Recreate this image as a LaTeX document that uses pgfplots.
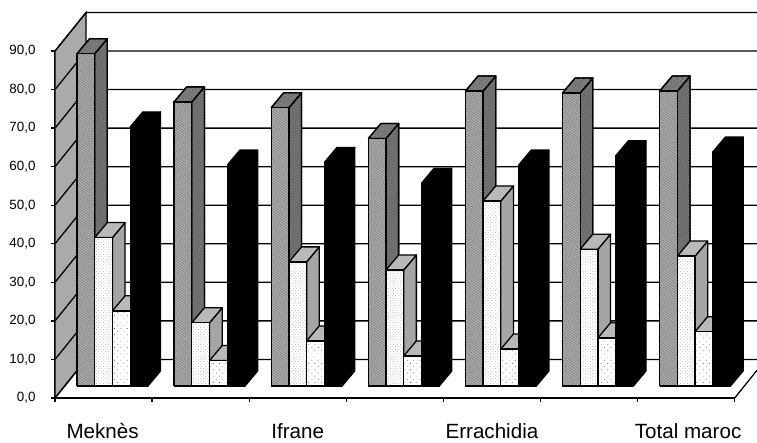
\documentclass[border=0pt]{standalone}
\usepackage{fontspec}
\setmainfont{Liberation Sans}
\usepackage{pgfplots}
\pgfplotsset{compat=1.18}
\usetikzlibrary{patterns.meta}

\definecolor{wallgray}{RGB}{170,170,170}
\definecolor{aFront}{RGB}{175,175,175}
\definecolor{aSide}{RGB}{125,125,125}
\definecolor{aTop}{RGB}{130,130,130}
\definecolor{bSide}{RGB}{165,165,165}
\definecolor{bTop}{RGB}{185,185,185}

\tikzset{
  edge/.style={draw=black, line width=1.3pt, line join=round},
  aF/.style={edge, preaction={fill=aFront}, pattern={Lines[angle=-35,distance=2.1pt,line width=.7pt]}, pattern color=black!50},
  aS/.style={edge, preaction={fill=aSide}, pattern={Lines[angle=50,distance=1.9pt,line width=.6pt]}, pattern color=black!65},
  aT/.style={edge, preaction={fill=aTop}, pattern={Lines[angle=20,distance=2pt,line width=.6pt]}, pattern color=black!60},
  bF/.style={edge, preaction={fill=white}, pattern={Dots[radius=.35pt,distance=2.4pt,angle=45]}, pattern color=black!60},
  bS/.style={edge, fill=bSide},
  bT/.style={edge, fill=bTop},
  cF/.style={edge, preaction={fill=white}, pattern={Dots[radius=.45pt,distance=4.5pt,angle=45]}, pattern color=black!75},
  cS/.style={edge, fill=bSide},
  cT/.style={edge, fill=bTop},
  dF/.style={edge, fill=black},
  dS/.style={edge, fill=black},
  dT/.style={edge, fill=black},
}

% columns stand 3.1 units up the floor
\newcommand\base{3.1}
% one column: left edge, value, series prefix
\newcommand\column[3]{%
  \edef\tmp{%
    \noexpand\addplot[#3S] coordinates {(\fpeval{#1+.1825},\base) (\fpeval{#1+.3125},\fpeval{\base+3.9}) (\fpeval{#1+.3125},\fpeval{#2+\base+3.9}) (\fpeval{#1+.1825},\fpeval{#2+\base}) (\fpeval{#1+.1825},\base)};
    \noexpand\addplot[#3T] coordinates {(#1,\fpeval{#2+\base}) (\fpeval{#1+.13},\fpeval{#2+\base+3.9}) (\fpeval{#1+.3125},\fpeval{#2+\base+3.9}) (\fpeval{#1+.1825},\fpeval{#2+\base}) (#1,\fpeval{#2+\base})};
    \noexpand\addplot[#3F] coordinates {(#1,\base) (\fpeval{#1+.1825},\base) (\fpeval{#1+.1825},\fpeval{#2+\base}) (#1,\fpeval{#2+\base}) (#1,\base)};
  }\tmp}
% one category: index, four values
\newcommand\group[5]{%
  \column{\fpeval{#1+.2265}}{#2}{a}%
  \column{\fpeval{#1+.409}}{#3}{b}%
  \column{\fpeval{#1+.5915}}{#4}{c}%
  \column{\fpeval{#1+.774}}{#5}{d}}

\begin{document}
\begin{tikzpicture}
\useasboundingbox (-55pt,-45pt) rectangle (702pt,398pt);
\begin{axis}[
    at={(0pt,0pt)}, anchor=south west,
    scale only axis,
    width=679.7pt, height=346.95pt,
    xmin=0, xmax=7, ymin=0, ymax=90,
    clip=false,
    axis lines=left,
    axis line style={-, line width=1.3pt},
    tick align=outside,
    major tick length=4pt,
    tick style={black, line width=1.3pt},
    xtick={0,...,7},
    xticklabels={},
    extra x ticks={0.49,2.5,4.5,6.52},
    extra x tick labels={Meknès,Ifrane,Errachidia,Total maroc},
    extra x tick style={
      major tick length=0pt,
      tick label style={font=\fontsize{20.6}{22}\selectfont, inner sep=0pt, text height=15pt, text depth=0pt, yshift=-25pt}},
    ytick={0,10,...,90},
    yticklabel style={font=\fontsize{13.4}{15}\selectfont, xshift=-12pt},
    /pgf/number format/.cd, fixed, fixed zerofill, precision=1, use comma,
      assume math mode=true,
]
% left wall
\addplot[draw=black, line width=1.3pt, fill=wallgray] coordinates {(0,0) (.32,10) (.32,100) (0,90) (0,0)};
% wall grid and back wall
\addplot[black, line width=1.3pt] coordinates {(0,0) (.32,10) (7.23,10)};
\addplot[black, line width=1.3pt] coordinates {(0,10) (.32,20) (7.23,20)};
\addplot[black, line width=1.3pt] coordinates {(0,20) (.32,30) (7.23,30)};
\addplot[black, line width=1.3pt] coordinates {(0,30) (.32,40) (7.23,40)};
\addplot[black, line width=1.3pt] coordinates {(0,40) (.32,50) (7.23,50)};
\addplot[black, line width=1.3pt] coordinates {(0,50) (.32,60) (7.23,60)};
\addplot[black, line width=1.3pt] coordinates {(0,60) (.32,70) (7.23,70)};
\addplot[black, line width=1.3pt] coordinates {(0,70) (.32,80) (7.23,80)};
\addplot[black, line width=1.3pt] coordinates {(0,80) (.32,90) (7.23,90)};
\addplot[black, line width=1.3pt] coordinates {(0,90) (.32,100) (7.23,100)};
% floor edge on the right
\addplot[black, line width=1.3pt] coordinates {(7,0) (7.23,7.2)};
% columns
\group{0}{86.2}{38.5}{19.5}{67.2}
\group{1}{73.7}{16.4}{6.6}{57.3}
\group{2}{72.2}{32.2}{11.7}{58.0}
\group{3}{64.2}{30.1}{7.8}{52.6}
\group{4}{76.5}{48.0}{9.6}{57.3}
\group{5}{76.0}{35.5}{12.5}{59.7}
\group{6}{76.5}{33.7}{14.1}{60.7}
\end{axis}
\end{tikzpicture}
\end{document}
